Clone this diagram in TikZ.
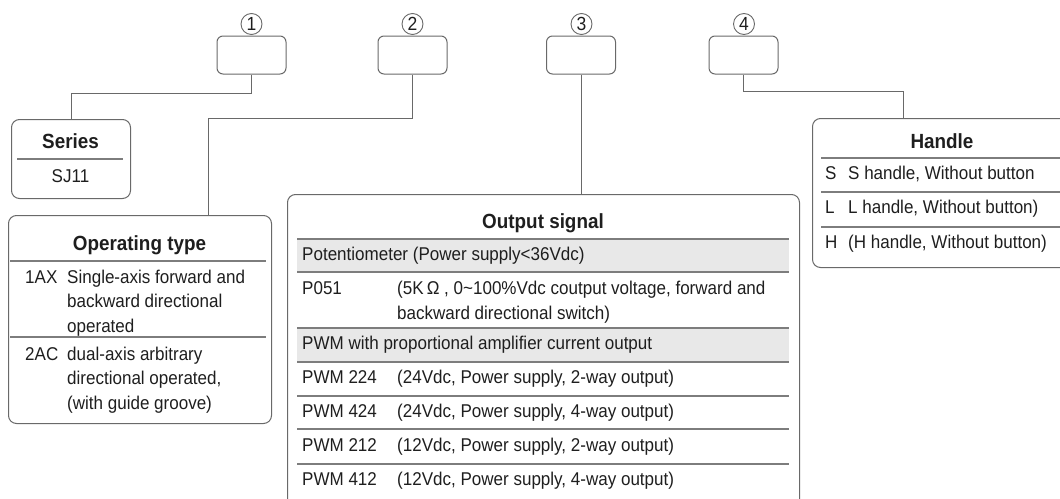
\documentclass[tikz,border=0pt]{standalone}
\usepackage{fontspec}
\setmainfont{Liberation Sans}[FakeStretch=0.92]
\usetikzlibrary{positioning,calc}
\definecolor{rahmen}{RGB}{105,105,105}
\definecolor{linie}{RGB}{125,125,125}
\definecolor{zeile}{RGB}{232,232,232}
\definecolor{schrift}{RGB}{30,30,30}

\begin{document}
\begin{tikzpicture}[x=1pt, y=-1pt, text=schrift,
    codebox/.style={draw=rahmen, line width=1pt, rounded corners=6pt, minimum width=69pt, minimum height=38pt},
    nummer/.style={draw=rahmen, circle, line width=0.9pt, minimum size=21pt, inner sep=0pt, font=\fontsize{19}{19}\selectfont},
    panel/.style={draw=rahmen, line width=1pt, rounded corners=8pt, anchor=north west},
    verbinder/.style={draw=rahmen, line width=1pt},
    trenn/.style={draw=linie, line width=1.3pt},
    titel/.style={anchor=base, inner sep=0pt, font=\fontsize{20.5}{20.5}\selectfont\bfseries},
    eintrag/.style={anchor=base west, inner sep=0pt, font=\fontsize{18.5}{18.5}\selectfont}]

    \useasboundingbox (0,0) rectangle (1060,498);
    \clip (0,0) rectangle (1060,498);

    % code boxes
    \node[nummer] (n1) at (251.5,24) {1};
    \node[nummer] (n2) at (412.5,24) {2};
    \node[nummer] (n3) at (581.5,24) {3};
    \node[nummer] (n4) at (744,24) {4};
    \node[codebox] (c1) at (251.5,55) {};
    \node[codebox] (c2) at (412.5,55) {};
    \node[codebox] (c3) at (581,55) {};
    \node[codebox] (c4) at (743.5,55) {};

    % panels
    \node[panel, minimum width=119pt, minimum height=79pt] (series) at (11,119) {};
    \node[panel, minimum width=263pt, minimum height=208pt] (optype) at (8,215) {};
    \node[panel, minimum width=512pt, minimum height=330pt] (output) at (287,194) {};
    \node[panel, minimum width=262pt, minimum height=149pt] (handle) at (812,118) {};

    \coordinate (k2) at (208,118);
    \coordinate (k4) at (903,91);
    \draw[verbinder] (c1.south) -- ++(0,19) -| (series.north);
    \draw[verbinder] (c2.south) |- (k2) -- (k2 |- optype.north);
    \draw[verbinder] (c3.south) -- (c3.south |- output.north);
    \draw[verbinder] (c4.south) |- (k4) -- (k4 |- handle.north);

    % Series
    \node[titel] (t1) at (70.5,148) {Series};
    \draw[trenn] (17,159) -- (123,159);
    \node[titel, font=\fontsize{18.5}{18.5}\selectfont] (sj) at (70.5,182) {SJ11};

    % Operating type
    \node[titel] (t2) at (139.5,250) {Operating type};
    \draw[trenn] (10,261) -- (266,261);
    \draw[trenn] (10,337) -- (266,337);
    \node[eintrag] (ax) at (25,283) {1AX};
    \node[eintrag] (ax1) at (67,283) {Single-axis forward and};
    \node[eintrag] (ax2) at (67,307.5) {backward directional};
    \node[eintrag] (ax3) at (67,332) {operated};
    \node[eintrag] (ac) at (25,360) {2AC};
    \node[eintrag] (ac1) at (67,360) {dual-axis arbitrary};
    \node[eintrag] (ac2) at (67,384.5) {directional operated,};
    \node[eintrag] (ac3) at (67,409) {(with guide groove)};

    % Output signal
    \node[titel] (t3) at (543,228) {Output signal};
    \fill[zeile] (297,239) rectangle (789,272);
    \fill[zeile] (297,328) rectangle (789,362);
    \foreach \y in {239,272,328,362,396,429,464}
        \draw[trenn] (297,\y) -- (789,\y);
    \node[eintrag] (pot) at (302,260.5) {Potentiometer (Power supply<36Vdc)};
    \node[eintrag] (p051) at (302,294.5) {P051};
    \node[eintrag] (p051a) at (397,294.5) {(5K\,Ω , 0\textasciitilde100\%Vdc coutput voltage, forward and};
    \node[eintrag] (p051b) at (397,319.5) {backward directional switch)};
    \node[eintrag] (pwm) at (302,349.5) {PWM with proportional amplifier current output};
    \foreach \k/\v/\w/\y in {224/24/2/383.5, 424/24/4/417.5, 212/12/2/451.5, 412/12/4/485.5} {
        \node[eintrag] (pwm\k) at (302,\y) {PWM \k};
        \node[eintrag] (d\k) at (397,\y) {(\v Vdc, Power supply, \w-way output)};
    }

    % Handle
    \node[titel] (t4) at (942,148) {Handle};
    \foreach \y in {158,192,227}
        \draw[trenn] (821,\y) -- (1070,\y);
    \node[eintrag] (hs) at (825,179.5) {S};
    \node[eintrag] (hs1) at (848,179.5) {S handle, Without button};
    \node[eintrag] (hl) at (825,213.5) {L};
    \node[eintrag] (hl1) at (848,213.5) {L handle, Without button)};
    \node[eintrag] (hh) at (825,248.5) {H};
    \node[eintrag] (hh1) at (848,248.5) {(H handle, Without button)};

\end{tikzpicture}
\end{document}
